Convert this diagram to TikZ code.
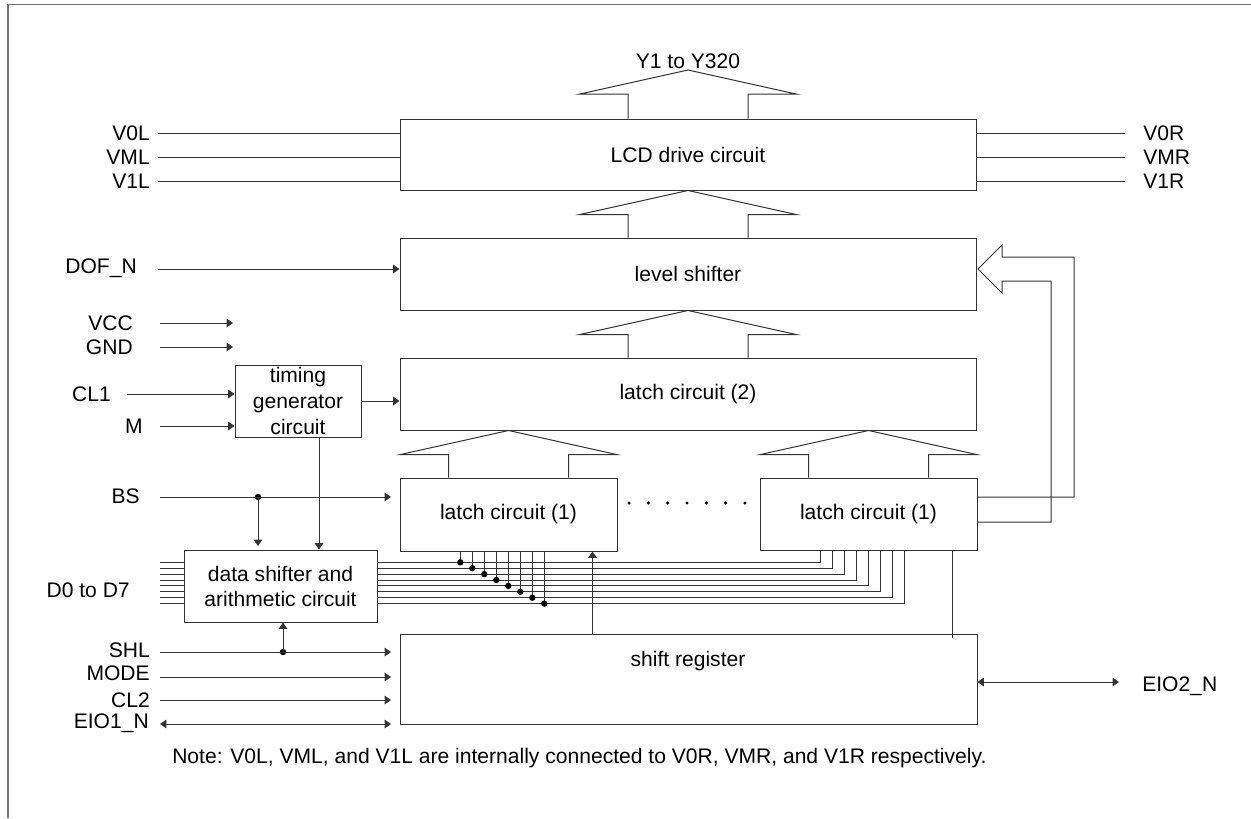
\documentclass[tikz,border=0pt]{standalone}
\usepackage{fontspec}
\setmainfont{Liberation Sans}
\usetikzlibrary{arrows.meta,calc}
\newcommand\fatarrow[2]{\draw[ln] let \p1=#1, \p2=#2 in
  (\x1-45pt,\y2) -- (\x1-45pt,\y1-18pt) -- (\x1-81pt,\y1-18pt) -- (\p1) --
  (\x1+81pt,\y1-18pt) -- (\x1+45pt,\y1-18pt) -- (\x1+45pt,\y2);}
\begin{document}
\begin{tikzpicture}[x=0.75pt,y=-0.75pt,
  ln/.style={line width=0.75pt, draw=black!80},
  blk/.style={draw=black!80, line width=0.75pt, rectangle, inner sep=0pt, align=center,
    font=\fontsize{15.8}{19.5}\selectfont},
  lbl/.style={inner sep=0pt, font=\fontsize{15.8}{19}\selectfont},
  arr/.style={ln, -{Triangle[length=4.8pt,width=6.5pt]}},
  darr/.style={ln, {Triangle[length=4.8pt,width=6.5pt]}-{Triangle[length=4.8pt,width=6.5pt]}},
  dot/.style={circle, fill=black, inner sep=0pt, minimum size=4.8pt},
  sdot/.style={circle, fill=black, inner sep=0pt, minimum size=2.6pt},
  frame/.style={draw=black!55, line width=1.1pt}
]
\useasboundingbox (0,0) rectangle (1251,818);
\draw[frame] (8,818) -- (8,4.5) -- (1251,4.5);

% blocks
\node[blk, minimum width=432pt, minimum height=53.25pt] (lcd) at (688,154.5) {LCD drive circuit};
\node[blk, minimum width=432pt, minimum height=54pt] (lvl) at (688,274) {level shifter};
\node[blk, minimum width=432pt, minimum height=54pt] (l2) at (688,394) {latch circuit (2)};
\node[blk, minimum width=162.75pt, minimum height=54.75pt] (l1a) at (508.5,514.5) {latch circuit (1)};
\node[blk, minimum width=162.75pt, minimum height=54pt] (l1b) at (868.5,514) {latch circuit (1)};
\node[blk, minimum width=94.5pt, minimum height=54pt] (tg) at (298,401) {timing\\generator\\circuit};
\node[blk, minimum width=144.75pt, minimum height=54pt, font=\fontsize{15.8}{18.75}\selectfont] (ds) at (280.5,586) {data shifter and\\arithmetic circuit};
\node[blk, minimum width=432.75pt, minimum height=67.5pt] (sr) at (688.5,679) {};
\node[lbl, anchor=base] (srt) at (688,666) {shift register};

% fat bus arrows
\coordinate (yout) at (688,70);
\node[lbl, anchor=base] (ylbl) at (688,68) {Y1 to Y320};
\fatarrow{(yout)}{(lcd.north)}
\fatarrow{(lcd.south)}{(lvl.north)}
\fatarrow{(lvl.south)}{(l2.north)}
\fatarrow{(l2.south -| l1a.north)}{(l1a.north)}
\fatarrow{(l2.south -| l1b.north)}{(l1b.north)}

% feedback hollow arrow from latch circuits (1) to level shifter
\draw[ln] (l1b.east |- 0,497) -- (1074,497) -- (1074,257) -- (1002,257) -- (1002,245)
  -- (978,269) -- (1002,293) -- (1002,281) -- (1051,281) -- (1051,522) -- (l1b.east |- 0,522);

% dots between latches
\foreach \k in {0,...,6}{
  \node[sdot] (d\k) at (629+19.33*\k,503) {};
}

% left labels
\node[lbl, anchor=base east] (v0l) at (150,140.5) {V0L};
\node[lbl, anchor=base east] (vml) at (150,164.5) {VML};
\node[lbl, anchor=base east] (v1l) at (150,188.5) {V1L};
\node[lbl, anchor=base east] (dof) at (137,273) {DOF\_N};
\node[lbl, anchor=base east] (vcc) at (133,330) {VCC};
\node[lbl, anchor=base east] (gnd) at (133,354) {GND};
\node[lbl, anchor=base east] (cl1) at (111,401) {CL1};
\node[lbl, anchor=base east] (m) at (143,433) {M};
\node[lbl, anchor=base east] (bs) at (140,503) {BS};
\node[lbl, anchor=base east] (dd) at (130,597) {D0 to D7};
\node[lbl, anchor=base east] (shl) at (150,657) {SHL};
\node[lbl, anchor=base east] (mode) at (150,680) {MODE};
\node[lbl, anchor=base east] (cl2) at (150,707) {CL2};
\node[lbl, anchor=base east] (eio1) at (149,728) {EIO1\_N};
% right labels
\node[lbl, anchor=base west] (v0r) at (1143,140.5) {V0R};
\node[lbl, anchor=base west] (vmr) at (1143,164.5) {VMR};
\node[lbl, anchor=base west] (v1r) at (1143,188.5) {V1R};
\node[lbl, anchor=base west] (eio2) at (1142,691.5) {EIO2\_N};
% note
\node[lbl, anchor=base west] (note) at (172,763) {Note: V0L, VML, and V1L are internally connected to V0R, VMR, and V1R respectively.};

% supply lines
\draw[ln] (158,133.3) -- (lcd.west |- 0,133.3);
\draw[ln] (158,157.3) -- (lcd.west |- 0,157.3);
\draw[ln] (158,181.3) -- (lcd.west |- 0,181.3);
\draw[ln] (lcd.east |- 0,133.3) -- (1125,133.3);
\draw[ln] (lcd.east |- 0,157.3) -- (1125,157.3);
\draw[ln] (lcd.east |- 0,181.3) -- (1125,181.3);

% control inputs
\draw[arr] (158,269) -- (lvl.west |- 0,269);
\draw[arr] (160,323) -- (233,323);
\draw[arr] (160,347) -- (233,347);
\draw[arr] (127,394) -- (tg.west |- 0,394);
\draw[arr] (160,426) -- (tg.west |- 0,426);
\draw[arr] (tg.east) -- (l2.west |- tg.east);
\draw[arr] ([xshift=15.75pt]tg.south) -- ([xshift=15.75pt]tg.south |- ds.north);

% BS
\node[dot] (jbs) at (258,497) {};
\draw[arr] (160,497) -- (391,497);
\draw[arr] (jbs.center) -- (258,546);

% SHL etc
\node[dot] (jshl) at (283,652) {};
\draw[arr] (160,652) -- (391,652);
\draw[arr] (jshl.center) -- (jshl.center |- ds.south);
\draw[arr] (160,677) -- (391,677);
\draw[arr] (160,700) -- (391,700);
\draw[darr] (160,724) -- (391,724);
\draw[darr] (sr.east |- 0,682) -- (1119,682);

% shift register to latches
\draw[arr] ([xshift=-18.75pt]l1a.south east |- sr.north) -- ([xshift=-18.75pt]l1a.south east);
\draw[ln] ([xshift=-18.75pt]l1b.south east) -- ++(0,87);

% data bus
\foreach \i in {0,...,7}{
  \pgfmathsetmacro\yy{562.3+5.9*\i}
  \pgfmathsetmacro\xr{820.3+12*\i}
  \pgfmathsetmacro\xt{460.3+12*\i}
  \draw[ln] (160,\yy) -- (184,\yy);
  \draw[ln] (377,\yy) -- (\xr,\yy) -- (\xr,550);
  \draw[ln] (\xt,551) -- (\xt,\yy);
  \node[dot] (t\i) at (\xt,\yy) {};
}
\end{tikzpicture}
\end{document}
